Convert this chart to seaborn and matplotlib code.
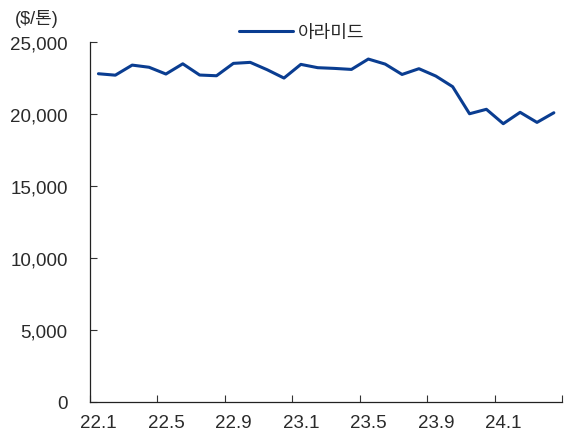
import numpy as np
import pandas as pd
import matplotlib
matplotlib.use("Agg")
import matplotlib.pyplot as plt
import seaborn as sns

# Data (monthly, 22.1 ~ 24.4)
months = [f"{y}.{m}" for y in (22, 23, 24) for m in range(1, 13)][:28]
prices = [22800, 22700, 23400, 23250, 22780, 23490, 22710, 22660,
          23520, 23590, 23080, 22500, 23450, 23220, 23170, 23100,
          23820, 23470, 22750, 23150, 22640, 21900, 20020, 20330,
          19330, 20120, 19420, 20090]
tick_labels = ["22.1", "22.5", "22.9", "23.1", "23.5", "23.9", "24.1"]
series_name = "아라미드"

LINE_COLOR = "#0a3d91"
TEXT_COLOR = "#2a2a2a"

sns.set_theme(style="white")
plt.rcParams["font.family"] = ["Liberation Sans", "Noto Sans CJK KR"]

df = pd.DataFrame({"idx": np.arange(len(months)), "month": months, "price": prices})

fig = plt.figure(figsize=(5.77, 4.35), dpi=100)
ax = fig.add_axes([0.156, 0.0736, 0.8185, 0.8274])
sns.lineplot(data=df, x="idx", y="price", color=LINE_COLOR, linewidth=2.2,
             label=series_name, ax=ax)

ax.set_xlim(-0.5, len(months) - 0.5)
ax.set_ylim(0, 25000)
ax.set_yticks(np.arange(0, 25001, 5000))
ax.set_yticklabels([f"{v:,}" for v in range(0, 25001, 5000)], fontsize=13.5, color=TEXT_COLOR)

# tick marks at category boundaries, labels at category centers
ax.set_xticks(np.arange(-0.5, len(months), 4))
ax.set_xticklabels([])
ax.set_xticks(np.arange(0, len(months), 4), minor=True)
ax.set_xticklabels(tick_labels, minor=True, fontsize=13.5, color=TEXT_COLOR)
ax.tick_params(axis="x", which="major", bottom=True, direction="in", length=5,
               width=0.8, color="#333333")
ax.tick_params(axis="x", which="minor", bottom=True, length=0, pad=9)
ax.tick_params(axis="y", left=True, direction="in", length=5, width=0.8,
               color="#333333", pad=16)

ax.set_xlabel("")
ax.set_ylabel("")
ax.grid(False)
for side in ["top", "right"]:
    ax.spines[side].set_visible(False)
for side in ["left", "bottom"]:
    ax.spines[side].set_color("#222222")
    ax.spines[side].set_linewidth(0.9)

ax.legend(loc="center", bbox_to_anchor=(0.523, 0.922), bbox_transform=fig.transFigure,
          frameon=False, fontsize=13, handlelength=3.0, handletextpad=0.3)

fig.text(0.026, 0.956, "($/톤)", fontsize=13, color=TEXT_COLOR, va="center", ha="left")

fig.savefig("out.png", dpi=100)
